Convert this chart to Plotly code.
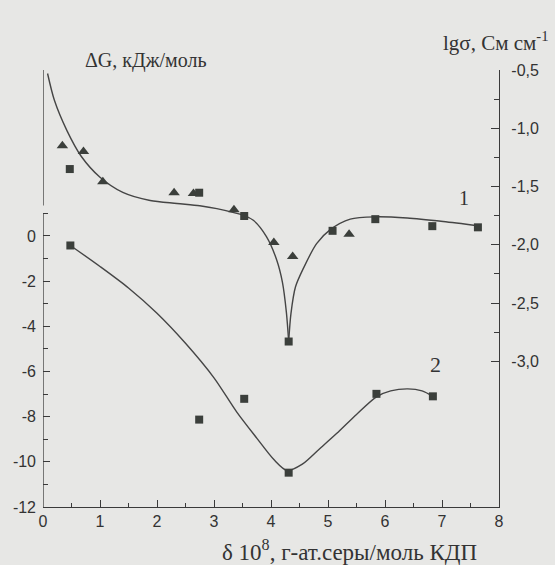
import plotly.graph_objects as go

# ---- data ----
# series 1: lg(sigma), right axis
tri1_x = [0.34, 0.71, 1.05, 2.30, 2.64, 3.35, 4.05, 4.38, 5.37]
tri1_y = [-1.15, -1.20, -1.46, -1.553, -1.56, -1.70, -1.98, -2.10, -1.91]
sq1_x = [0.47, 2.74, 3.53, 4.31, 5.08, 5.83, 6.83, 7.63]
sq1_y = [-1.35, -1.553, -1.753, -2.83, -1.88, -1.78, -1.84, -1.85]
# fitted curve 1 (two branches meeting at the cusp)
c1a_x = [0.08, 0.2, 0.42, 0.67, 1.0, 1.4, 1.88, 2.35, 2.75, 3.05, 3.53, 3.69, 3.92, 4.10, 4.20, 4.27, 4.31]
c1a_y = [-0.53, -0.76, -1.02, -1.24, -1.42, -1.55, -1.62, -1.645, -1.665, -1.69, -1.75, -1.79, -1.93, -2.13, -2.32, -2.58, -2.83]
c1b_x = [4.31, 4.35, 4.43, 4.57, 4.80, 5.04, 5.39, 5.83, 6.39, 7.02, 7.63]
c1b_y = [-2.83, -2.59, -2.36, -2.20, -1.99, -1.87, -1.78, -1.76, -1.77, -1.80, -1.836]

# series 2: dG, left axis
sq2_x = [0.48, 2.74, 3.53, 4.31, 5.85, 6.84]
sq2_y = [-0.42, -8.13, -7.21, -10.48, -6.99, -7.10]
c2_x = [0.48, 1.0, 1.5, 2.0, 2.5, 3.0, 3.4, 3.75, 4.05, 4.28, 4.55, 4.84, 5.15, 5.5, 5.85, 6.1, 6.4, 6.65, 6.84]
c2_y = [-0.42, -1.35, -2.30, -3.42, -4.75, -6.28, -7.80, -8.95, -9.90, -10.38, -10.10, -9.45, -8.75, -7.90, -7.12, -6.86, -6.77, -6.86, -7.10]

x_ticks = [0, 1, 2, 3, 4, 5, 6, 7, 8]
x_minor = [0.5, 1.5, 2.5, 3.5, 4.5, 5.5, 6.5, 7.5]
left_ticks = [0, -2, -4, -6, -8, -10, -12]
left_labels = ["0", "-2", "-4", "-6", "-8", "-10", "-12"]
left_minor = [1, -1, -3, -5, -7, -9, -11]
right_ticks = [-0.5, -1.0, -1.5, -2.0, -2.5, -3.0]
right_labels = ["-0,5", "-1,0", "-1,5", "-2,0", "-2,5", "-3,0"]
right_minor = [-0.75, -1.25, -1.75, -2.25, -2.75]

LINE = "#454545"
MARK = "#3b3f3b"
AX = "#3a3a3a"
BG = "#e7e7e5"
SANS = "Liberation Sans, Arial, sans-serif"
SERIF = "Liberation Serif, Times New Roman, serif"

# plot-area geometry in pixels (for placing free text)
L_PX, R_PX, T_PX, B_PX = 43, 499, 70, 507


def px(xp):
    return (xp - L_PX) / (R_PX - L_PX)


def py(yp):
    return (B_PX - yp) / (B_PX - T_PX)


fig = go.Figure()
fig.add_trace(go.Scatter(x=c1a_x, y=c1a_y, yaxis="y2", mode="lines",
                         line=dict(color=LINE, width=1.4, shape="spline", smoothing=0.8)))
fig.add_trace(go.Scatter(x=c1b_x, y=c1b_y, yaxis="y2", mode="lines",
                         line=dict(color=LINE, width=1.4, shape="spline", smoothing=0.8)))
fig.add_trace(go.Scatter(x=c2_x, y=c2_y, yaxis="y", mode="lines",
                         line=dict(color=LINE, width=1.4, shape="spline", smoothing=0.8)))
fig.add_trace(go.Scatter(x=tri1_x, y=tri1_y, yaxis="y2", mode="markers",
                         marker=dict(symbol="triangle-up", size=10, color=MARK)))
fig.add_trace(go.Scatter(x=sq1_x, y=sq1_y, yaxis="y2", mode="markers",
                         marker=dict(symbol="square", size=8, color=MARK)))
fig.add_trace(go.Scatter(x=sq2_x, y=sq2_y, yaxis="y", mode="markers",
                         marker=dict(symbol="square", size=8, color=MARK)))

tickfont = dict(family=SANS, size=16, color="#333333")

fig.update_layout(
    width=555, height=565,
    paper_bgcolor=BG, plot_bgcolor=BG,
    margin=dict(l=L_PX, r=555 - R_PX, t=T_PX, b=565 - B_PX),
    showlegend=False,
    xaxis=dict(range=[0, 8], showgrid=False, zeroline=False, showline=True,
               linecolor=AX, linewidth=1.3, ticks="inside", ticklen=7, tickwidth=1.2,
               tickcolor=AX, tickmode="array", tickvals=x_ticks,
               ticktext=[str(v) for v in x_ticks], tickfont=tickfont,
               minor=dict(tickmode="array", tickvals=x_minor, ticks="inside",
                          ticklen=4, tickwidth=1.2, tickcolor=AX)),
    yaxis=dict(range=[-12, 7.35], showgrid=False, zeroline=False, showline=False,
               ticks="inside", ticklen=7, tickwidth=1.2, tickcolor=AX,
               tickmode="array", tickvals=left_ticks, ticktext=left_labels,
               tickfont=tickfont, ticklabelstandoff=6,
               minor=dict(tickmode="array", tickvals=left_minor, ticks="inside",
                          ticklen=5, tickwidth=1.2, tickcolor=AX)),
    yaxis2=dict(range=[-4.25, -0.5], overlaying="y", side="right", anchor="x",
                showgrid=False, zeroline=False, showline=True, linecolor=AX,
                linewidth=1.3, ticks="inside", ticklen=8, tickwidth=1.2,
                tickcolor=AX, tickmode="array", tickvals=right_ticks,
                ticktext=right_labels, tickfont=tickfont, ticklabelstandoff=8,
                minor=dict(tickmode="array", tickvals=right_minor, ticks="inside",
                           ticklen=5, tickwidth=1.2, tickcolor=AX)),
)

# left axis line: lower part (with top bracket) and upper part
fig.add_shape(type="line", xref="x", yref="y", x0=0, x1=0, y0=-12, y1=1,
              line=dict(color=AX, width=1.3))
fig.add_shape(type="line", xref="x", yref="y", x0=0, x1=0, y0=1.35, y1=7.35,
              line=dict(color=AX, width=1.3))

fig.add_annotation(x=7.39, y=-1.60, xref="x", yref="y2", text="1", showarrow=False,
                   xanchor="center", yanchor="middle",
                   font=dict(family=SERIF, size=20, color="#333333"))
fig.add_annotation(x=6.89, y=-5.70, xref="x", yref="y", text="2", showarrow=False,
                   xanchor="center", yanchor="middle",
                   font=dict(family=SERIF, size=22, color="#333333"))

fig.add_annotation(x=px(146), y=py(60), xref="paper", yref="paper",
                   xanchor="center", yanchor="middle",
                   text="ΔG, кДж/моль", showarrow=False,
                   font=dict(family=SERIF, size=20, color="#333333"))
fig.add_annotation(x=px(551), y=py(41), xref="paper", yref="paper",
                   xanchor="right", yanchor="middle",
                   text="lgσ, См см<sup>-1</sup>", showarrow=False,
                   font=dict(family=SERIF, size=21, color="#333333"))
fig.add_annotation(x=px(349), y=py(550), xref="paper", yref="paper",
                   xanchor="center", yanchor="middle",
                   text="δ 10<sup>8</sup>, г-ат.серы/моль КДП", showarrow=False,
                   font=dict(family=SERIF, size=23, color="#333333"))

fig.write_html("out.html", config={"displayModeBar": False},
               post_script="document.body.style.margin='0';")
